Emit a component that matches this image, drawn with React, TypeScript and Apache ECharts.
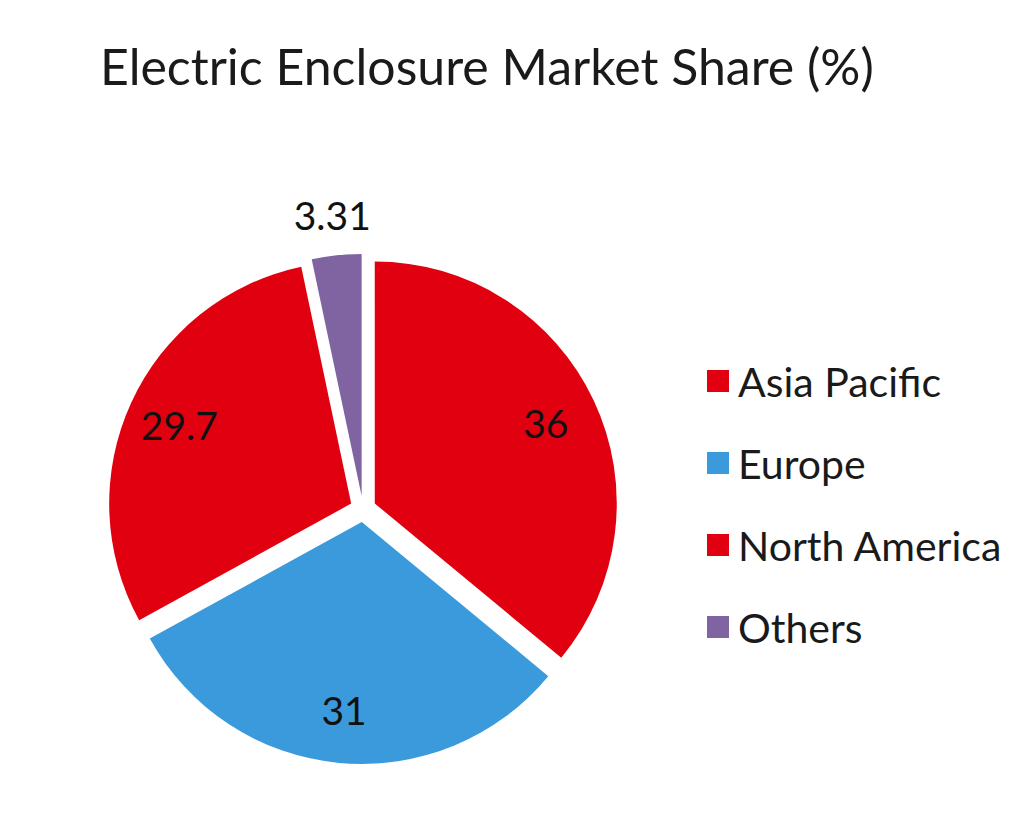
import React, { useEffect, useRef } from "react";
import * as echarts from "echarts";

const titleText = "Electric Enclosure Market Share (%)";
const categories = ["Asia Pacific", "Europe", "North America", "Others"];
const shares = [36, 31, 29.7, 3.31];
const colors = ["#E1000F", "#3A9ADB", "#E1000F", "#8064A2"];
const innerLabelShown = [true, true, true, false];

const FONT = "Lato";

export default function App() {
  const ref = useRef<HTMLDivElement>(null);
  useEffect(() => {
    if (!ref.current) return;
    const chart = echarts.init(ref.current, undefined, { renderer: "svg" });
    const center = [363, 509];
    const baseData = categories.map((name, i) => ({
      name,
      value: shares[i],
      selected: true,
    }));
    const labelStyle = {
      position: "inside",
      formatter: "{c}",
      fontFamily: FONT,
      fontSize: 39,
      color: "#111111",
    };
    chart.setOption({
      animation: false,
      backgroundColor: "#ffffff",
      title: {
        text: titleText,
        left: 95,
        top: 36,
        textStyle: {
          fontFamily: FONT,
          fontSize: 50,
          fontWeight: "normal",
          color: "#1a1a1a",
        },
      },
      legend: {
        data: categories,
        orient: "vertical",
        left: 702,
        top: 354,
        icon: "rect",
        itemWidth: 22,
        itemHeight: 22,
        itemGap: 38,
        textStyle: {
          fontFamily: FONT,
          fontSize: 41,
          color: "#1a1a1a",
          lineHeight: 44,
          padding: [0, 0, 0, 4],
        },
        selectedMode: false,
      },
      series: [
        {
          type: "pie",
          center,
          radius: 242,
          startAngle: 90,
          clockwise: true,
          selectedMode: "multiple",
          selectedOffset: 13,
          silent: true,
          label: { show: false },
          labelLine: { show: false },
          emphasis: { disabled: true },
          data: baseData.map((d, i) => ({
            ...d,
            itemStyle: { color: colors[i] },
          })),
        },
        {
          type: "pie",
          center,
          radius: [124, 248],
          startAngle: 90,
          clockwise: true,
          selectedMode: "multiple",
          selectedOffset: 13,
          silent: true,
          itemStyle: { color: "rgba(0,0,0,0)" },
          emphasis: { disabled: true },
          labelLine: { show: false },
          data: baseData.map((d, i) => ({
            ...d,
            label: { ...labelStyle, show: innerLabelShown[i] },
          })),
        },
        {
          type: "pie",
          center,
          radius: [0, 560],
          startAngle: 90,
          clockwise: true,
          selectedMode: "multiple",
          selectedOffset: 13,
          silent: true,
          itemStyle: { color: "rgba(0,0,0,0)" },
          emphasis: { disabled: true },
          labelLine: { show: false },
          data: baseData.map((d, i) => ({
            ...d,
            label: { ...labelStyle, show: !innerLabelShown[i] },
          })),
        },
      ],
    });
    return () => chart.dispose();
  }, []);
  return (
    <div
      ref={ref}
      style={{ position: "absolute", left: 0, top: 0, width: 1032, height: 835 }}
    />
  );
}
